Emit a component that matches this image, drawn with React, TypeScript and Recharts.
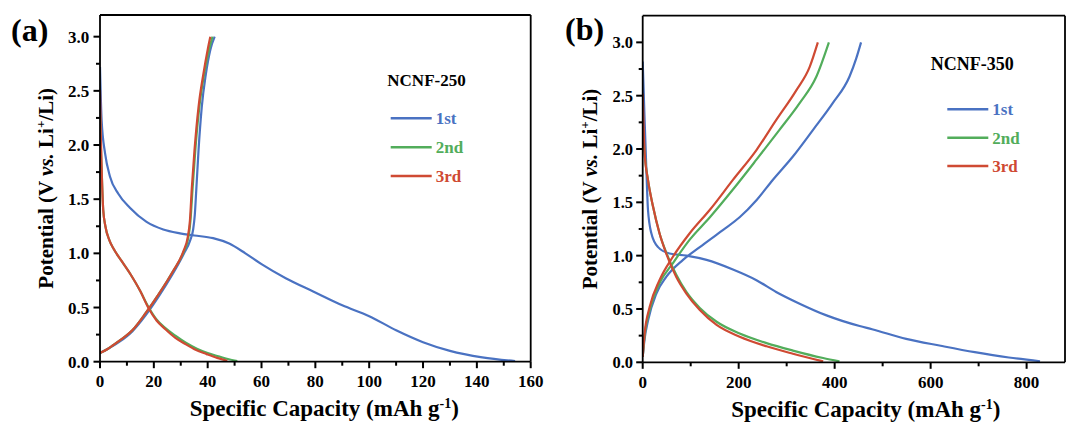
import React from 'react';
import { LineChart, Line, XAxis, YAxis, ReferenceLine, Legend, Customized } from 'recharts';

const FONT = '"Liberation Serif", "Times New Roman", Times, serif';
const BLUE = '#4a72c2';
const GREEN = '#52ad5b';
const RED = '#cf4a33';

const cycleNames = ['1st', '2nd', '3rd'];
const cycleColors = [BLUE, GREEN, RED];

type P = [number, number];

// ---- Panel (a) NCNF-250 : [capacity mAh/g, potential V]
const a1Discharge: P[] = [[0, 2.72], [0.6, 2.23], [1.9, 1.92], [3.7, 1.71], [6.8, 1.55], [11.1, 1.42], [17.3, 1.29], [23.5, 1.22], [29.7, 1.185], [35, 1.165], [42, 1.14], [48, 1.09], [54, 1.0], [60, 0.9], [69, 0.77], [79, 0.65], [90, 0.52], [100, 0.42], [110, 0.29], [120, 0.18], [130, 0.1], [142, 0.04], [154.2, 0.005]];
const a1Charge: P[] = [[0, 0.08], [3, 0.12], [7, 0.18], [12, 0.28], [17, 0.43], [22, 0.61], [27, 0.81], [31, 0.99], [33.5, 1.12], [34.6, 1.22], [35.2, 1.35], [35.8, 1.6], [36.6, 1.95], [37.8, 2.35], [39.3, 2.65], [41, 2.88], [42.6, 3.0]];
const a2Discharge: P[] = [[0, 2.3], [0.3, 2.0], [0.6, 1.78], [1.2, 1.4], [2, 1.25], [3.5, 1.12], [5.1, 1.04], [8, 0.93], [11.5, 0.8], [15, 0.65], [17.9, 0.51], [21, 0.39], [24.3, 0.31], [28, 0.24], [31.9, 0.175], [36, 0.12], [40, 0.08], [44, 0.05], [47.5, 0.025], [51, 0.006]];
const a2Charge: P[] = [[0, 0.08], [3, 0.12], [7, 0.19], [12, 0.29], [17, 0.45], [22, 0.63], [27, 0.83], [31, 1.01], [32.8, 1.14], [33.6, 1.3], [34.4, 1.6], [35.4, 1.95], [36.9, 2.35], [38.8, 2.67], [40.5, 2.88], [41.8, 3.0]];
const a3Discharge: P[] = [[0, 2.51], [0.3, 2.1], [0.6, 1.8], [1.2, 1.4], [2, 1.25], [3.5, 1.12], [5.1, 1.04], [8, 0.93], [11.5, 0.8], [15, 0.65], [17.9, 0.5], [21, 0.38], [24.3, 0.3], [28, 0.22], [31.9, 0.16], [35.5, 0.11], [39.6, 0.07], [43.5, 0.035], [47.3, 0.008]];
const a3Charge: P[] = [[0, 0.08], [3, 0.12], [7, 0.19], [12, 0.29], [17, 0.45], [22, 0.63], [27, 0.83], [31, 1.02], [32.6, 1.15], [33.4, 1.3], [34.1, 1.6], [35.1, 1.95], [36.6, 2.35], [38.5, 2.67], [40, 2.88], [41, 3.0]];

// ---- Panel (b) NCNF-350
const b1Discharge: P[] = [[0, 2.82], [4, 2.27], [7.7, 1.8], [11, 1.43], [18, 1.21], [32, 1.08], [56, 1.02], [91, 1.0], [133, 0.96], [188, 0.87], [237, 0.77], [278, 0.66], [327, 0.55], [383, 0.44], [452, 0.34], [478, 0.31], [549, 0.22], [621, 0.155], [692, 0.095], [763, 0.045], [828, 0.01]];
const b1Charge: P[] = [[0, 0.05], [4, 0.22], [11, 0.39], [28.5, 0.645], [49, 0.8], [84, 0.96], [119, 1.08], [167, 1.24], [202, 1.36], [237, 1.52], [271, 1.71], [313, 1.93], [355, 2.18], [396, 2.43], [431, 2.68], [445, 2.85], [455, 3.0]];
const b2Discharge: P[] = [[0, 2.2], [2, 2.1], [4, 1.96], [11, 1.71], [21.5, 1.46], [35, 1.21], [49, 1.03], [70, 0.82], [91, 0.66], [119, 0.51], [154, 0.38], [202, 0.27], [258, 0.18], [313, 0.11], [376, 0.04], [410, 0.008]];
const b2Charge: P[] = [[0, 0.05], [4, 0.25], [14.6, 0.49], [35, 0.74], [63, 0.93], [98, 1.15], [140, 1.36], [188, 1.62], [237, 1.9], [285, 2.18], [327, 2.43], [362, 2.68], [388, 3.0]];
const b3Discharge: P[] = [[0, 2.52], [2, 2.2], [4, 1.96], [11, 1.71], [21.5, 1.46], [35, 1.21], [49, 1.02], [70, 0.8], [91, 0.645], [119, 0.49], [154, 0.35], [202, 0.24], [258, 0.15], [313, 0.08], [376, 0.008]];
const b3Charge: P[] = [[0, 0.05], [4, 0.27], [14.6, 0.52], [35, 0.77], [63, 0.99], [98, 1.21], [140, 1.43], [188, 1.71], [237, 1.99], [278, 2.27], [320, 2.55], [348, 2.77], [365, 3.0]];

// ---- ticks
const aXMajor = [0, 20, 40, 60, 80, 100, 120, 140, 160];
const aXMinor = [10, 30, 50, 70, 90, 110, 130, 150];
const bXMajor = [0, 200, 400, 600, 800];
const bXMinor = [100, 300, 500, 700];
const yMajor = [0, 0.5, 1.0, 1.5, 2.0, 2.5, 3.0];
const yMinor = [0.25, 0.75, 1.25, 1.75, 2.25, 2.75];

const toPts = (arr: P[]) => arr.map(([c, v]) => ({ c, v }));

const X_TM = 13.5;
const AXIS_W = 1.8;

// tick mark + label drawn together: the label sits X_TM below the axis line
const makeXTick = (majors: number[]) => (props: any) => {
  const { x, y, payload } = props;
  const v = payload.value;
  const isMajor = majors.includes(v);
  const axisY = y - X_TM;
  return (
    <g>
      <rect x={x - 1} y={axisY} width={2} height={isMajor ? 6.5 : 4} fill="#000" />
      {isMajor && (
        <text x={x} y={y} dy="0.71em" textAnchor="middle" fontFamily={FONT} fontWeight="bold" fontSize={17} fill="#000">
          {String(v)}
        </text>
      )}
    </g>
  );
};

const makeYTick = (majors: number[], tm: number, fs: number) => (props: any) => {
  const { x, y, payload } = props;
  const v = payload.value;
  const isMajor = majors.some((m) => Math.abs(m - v) < 1e-9);
  const axisX = x + tm;
  const len = isMajor ? 6.5 : 4;
  return (
    <g>
      <rect x={axisX - len} y={y - 1} width={len} height={2} fill="#000" />
      {isMajor && (
        <text x={x} y={y} dy="0.355em" textAnchor="end" fontFamily={FONT} fontWeight="bold" fontSize={fs} fill="#000">
          {v.toFixed(1)}
        </text>
      )}
    </g>
  );
};

const XTitle = (dx: number) => (props: any) => {
  const vb = props.viewBox;
  const cx = vb.x + vb.width / 2 + dx;
  const y = vb.y + 54.3;
  return (
    <text x={cx} y={y} textAnchor="middle" fontFamily={FONT} fontWeight="bold" fontSize={23} fill="#000">
      Specific Capacity (mAh g
      <tspan dy={-8} fontSize={14}>-1</tspan>
      <tspan dy={8}>)</tspan>
    </text>
  );
};

const YTitle = (cxRel: number) => (props: any) => {
  const vb = props.viewBox;
  const cx = vb.x + cxRel;
  const cy = vb.y + vb.height / 2;
  return (
    <text
      x={cx}
      y={cy}
      transform={`rotate(-90, ${cx}, ${cy})`}
      textAnchor="middle"
      dy="0.35em"
      fontFamily={FONT}
      fontWeight="bold"
      fontSize={21}
      fill="#000"
    >
      Potential (V <tspan fontStyle="italic">vs.</tspan> Li
      <tspan dy={-8} fontSize={13}>+</tspan>
      <tspan dy={8}>/Li)</tspan>
    </text>
  );
};

type Cycle = { dis: P[]; chg: P[] };

type PanelProps = {
  left: number;
  width: number;
  margin: { top: number; right: number; left: number; bottom: number };
  yAxisWidth: number;
  xAxisHeight: number;
  xMax: number;
  yMax: number;
  xMajor: number[];
  xMinor: number[];
  cycles: Cycle[];
  sample: string;
  tag: string;
  tagX: number;
  tagY: number;
  legendLeft: number;
  legendTop: number;
  legendTitleX: number;
  legendTitleY: number;
  legendTitleSize: number;
  legendLineX: number;
  legendRowsY: number[];
  yTitleX: number;
  xTitleDx: number;
  yTickMargin: number;
  yTickSize: number;
};

function Panel(p: PanelProps) {
  const xTicks = [...p.xMajor, ...p.xMinor].sort((a, b) => a - b);
  const yTicks = [...yMajor, ...yMinor].sort((a, b) => a - b);
  const legendContent = () => (
    <svg width={130} height={135} style={{ display: 'block' }}>
      <text x={p.legendTitleX} y={p.legendTitleY} fontFamily={FONT} fontWeight="bold" fontSize={p.legendTitleSize} fill="#000">
        {p.sample}
      </text>
      {cycleNames.map((n, i) => (
        <g key={n}>
          <line x1={p.legendLineX} x2={p.legendLineX + 41} y1={p.legendRowsY[i]} y2={p.legendRowsY[i]} stroke={cycleColors[i]} strokeWidth={2.5} />
          <text x={p.legendLineX + 45} y={p.legendRowsY[i] + 6} fontFamily={FONT} fontWeight="bold" fontSize={17} fill={cycleColors[i]}>
            {n}
          </text>
        </g>
      ))}
    </svg>
  );
  return (
    <div style={{ position: 'absolute', left: p.left, top: 0 }}>
      <LineChart width={p.width} height={427} margin={p.margin}>
        <XAxis
          dataKey="c"
          type="number"
          domain={[0, p.xMax]}
          allowDataOverflow
          ticks={xTicks}
          interval={0}
          tickLine={false}
          tickSize={0}
          tickMargin={X_TM}
          tick={makeXTick(p.xMajor)}
          axisLine={{ stroke: '#000', strokeWidth: AXIS_W }}
          height={p.xAxisHeight}
          label={{ content: XTitle(p.xTitleDx) }}
        />
        <YAxis
          dataKey="v"
          type="number"
          domain={[0, p.yMax]}
          allowDataOverflow
          ticks={yTicks}
          interval={0}
          tickLine={false}
          tickSize={0}
          tickMargin={p.yTickMargin}
          tick={makeYTick(yMajor, p.yTickMargin, p.yTickSize)}
          axisLine={{ stroke: '#000', strokeWidth: AXIS_W }}
          width={p.yAxisWidth}
          label={{ content: YTitle(p.yTitleX) }}
        />
        <ReferenceLine y={p.yMax} stroke="#000" strokeWidth={AXIS_W} />
        <ReferenceLine x={p.xMax} stroke="#000" strokeWidth={AXIS_W} />
        {p.cycles.map((cy, i) => [
          <Line
            key={`d${i}`}
            data={toPts(cy.dis)}
            dataKey="v"
            name={cycleNames[i]}
            type="monotone"
            stroke={cycleColors[i]}
            strokeWidth={2.2}
            dot={false}
            activeDot={false}
            isAnimationActive={false}
          />,
          <Line
            key={`c${i}`}
            data={toPts(cy.chg)}
            dataKey="v"
            name={`${cycleNames[i]} charge`}
            legendType="none"
            type="monotone"
            stroke={cycleColors[i]}
            strokeWidth={2.2}
            dot={false}
            activeDot={false}
            isAnimationActive={false}
          />,
        ])}
        <Legend
          layout="vertical"
          align="center"
          verticalAlign="middle"
          content={legendContent}
          wrapperStyle={{ left: p.legendLeft, top: p.legendTop, width: 130, height: 135 }}
        />
        <Customized
          component={() => (
            <text x={p.tagX} y={p.tagY} fontFamily={FONT} fontWeight="bold" fontSize={32} fill="#000">
              {p.tag}
            </text>
          )}
        />
      </LineChart>
    </div>
  );
}

export default function App() {
  return (
    <div style={{ position: 'absolute', left: 0, top: 0, width: 1067, height: 427, background: '#fff', overflow: 'hidden' }}>
      <Panel
        left={0}
        width={550}
        margin={{ top: 15, right: 19.3, left: 0, bottom: 0 }}
        yAxisWidth={100}
        xAxisHeight={65.3}
        xMax={160}
        yMax={3.2}
        xMajor={aXMajor}
        xMinor={aXMinor}
        cycles={[
          { dis: a1Discharge, chg: a1Charge },
          { dis: a2Discharge, chg: a2Charge },
          { dis: a3Discharge, chg: a3Charge },
        ]}
        sample="NCNF-250"
        tag="(a)"
        tagX={11}
        tagY={41}
        legendLeft={380}
        legendTop={55}
        legendTitleX={7.3}
        legendTitleY={30.7}
        legendTitleSize={17}
        legendLineX={10.7}
        legendRowsY={[63.3, 92.3, 121]}
        yTitleX={46}
        xTitleDx={9}
        yTickMargin={10.7}
        yTickSize={17}
      />
      <Panel
        left={550}
        width={517}
        margin={{ top: 15.7, right: 2, left: 0, bottom: 0 }}
        yAxisWidth={92.7}
        xAxisHeight={64.7}
        xMax={880}
        yMax={3.25}
        xMajor={bXMajor}
        xMinor={bXMinor}
        cycles={[
          { dis: b1Discharge, chg: b1Charge },
          { dis: b2Discharge, chg: b2Charge },
          { dis: b3Discharge, chg: b3Charge },
        ]}
        sample="NCNF-350"
        tag="(b)"
        tagX={15}
        tagY={40}
        legendLeft={375}
        legendTop={45}
        legendTitleX={5.7}
        legendTitleY={25.3}
        legendTitleSize={18}
        legendLineX={22.3}
        legendRowsY={[64.3, 92.7, 121]}
        yTitleX={40}
        xTitleDx={12}
        yTickMargin={9.7}
        yTickSize={16.5}
      />
    </div>
  );
}
